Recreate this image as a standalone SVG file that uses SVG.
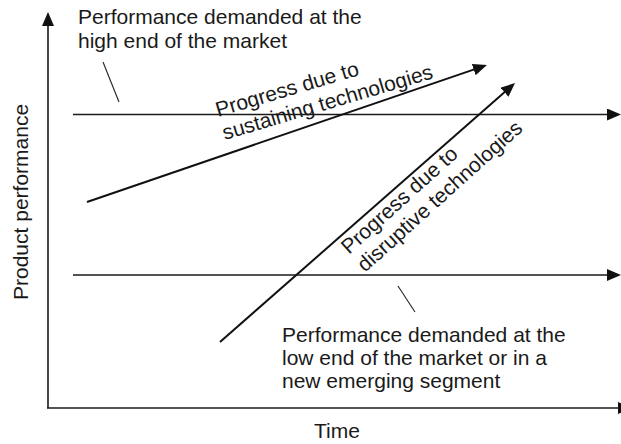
<svg xmlns="http://www.w3.org/2000/svg" width="621" height="444" viewBox="0 0 621 444">
<style>
.t{font-family:"Liberation Sans",Arial,Helvetica,sans-serif;font-size:21px;fill:#1a1a1a}
.ax{stroke:#1a1a1a;stroke-width:1.6;fill:none}
.ln{stroke:#1a1a1a;stroke-width:1.5;fill:none}
.pr{stroke:#111;stroke-width:2;fill:none}
.ld{stroke:#222;stroke-width:1.1;fill:none}
</style>
<defs>
<marker id="ah" markerUnits="userSpaceOnUse" markerWidth="14" markerHeight="12" refX="6" refY="6" orient="auto">
<path d="M0,0 L14,6 L0,12 z" fill="#111"/>
</marker>
</defs>
<rect width="621" height="444" fill="#fff"/>
<g id="axes">
<line class="ax" x1="48" y1="408" x2="48" y2="20" marker-end="url(#ah)"/>
<line class="ax" x1="47" y1="408" x2="624" y2="408" marker-end="url(#ah)"/>
<text class="t" x="337" y="438" text-anchor="middle">Time</text>
<text class="t" transform="translate(28,300) rotate(-90)">Product performance</text>
</g>
<g id="connectors">
<line class="ln" x1="73" y1="114.5" x2="613" y2="114.5" marker-end="url(#ah)"/>
<line class="ln" x1="73" y1="275" x2="613" y2="275" marker-end="url(#ah)"/>
<line class="pr" x1="87" y1="202" x2="479.4" y2="67.6" marker-end="url(#ah)"/>
<line class="pr" x1="220" y1="342" x2="509" y2="88.3" marker-end="url(#ah)"/>
<line class="ld" x1="103" y1="62" x2="119" y2="102"/>
<line class="ld" x1="398" y1="286" x2="415" y2="312"/>
</g>
<g id="high-end">
<text class="t" x="78" y="24">Performance demanded at the</text>
<text class="t" x="78" y="48">high end of the market</text>
</g>
<g id="low-end">
<text class="t" x="282" y="342">Performance demanded at the</text>
<text class="t" x="282" y="365">low end of the market or in a</text>
<text class="t" x="282" y="388">new emerging segment</text>
</g>
<g id="sustaining" transform="translate(218,117) rotate(-16.5)">
<text class="t" x="0" y="0">Progress due to</text>
<text class="t" x="0" y="24">sustaining technologies</text>
</g>
<g id="disruptive" transform="translate(349,255) rotate(-42)">
<text class="t" x="0" y="0">Progress due to</text>
<text class="t" x="0" y="24">disruptive technologies</text>
</g>
</svg>
